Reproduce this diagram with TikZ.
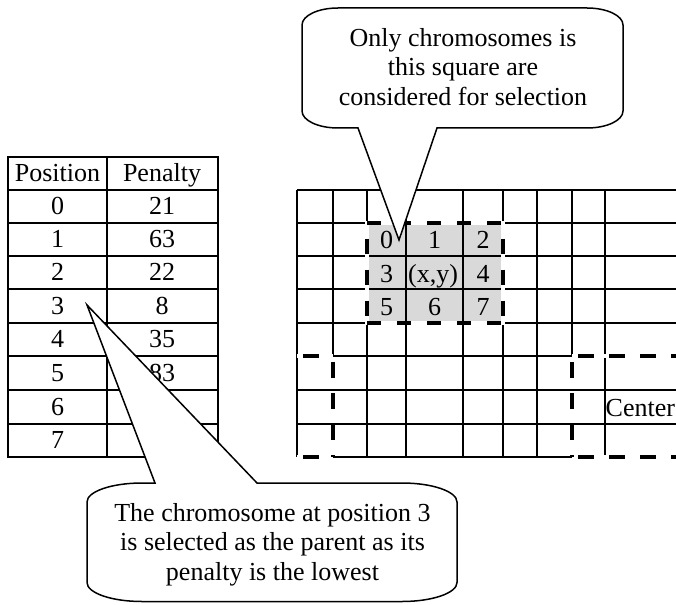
\documentclass[tikz,border=0pt]{standalone}
\usepackage{fontspec}
\setmainfont{Liberation Serif}
\definecolor{boxgray}{RGB}{217,217,217}
\begin{document}
\begin{tikzpicture}[x=1pt,y=-1pt,
  font=\fontsize{26}{29.2}\selectfont,
  gridline/.style={line width=2pt},
  under/.style={white,line width=4pt},
  sidedash/.style={line width=4pt,dash pattern=on 16pt off 15pt,dash phase=25pt},
  hdash/.style={line width=4pt,dash pattern=on 14pt off 16pt,dash phase=0pt},
  vdash/.style={line width=4pt,dash pattern=on 15pt off 16pt,dash phase=15pt},
  tcell/.style={inner sep=0pt,text height=16.6pt,text depth=0pt},
  gcell/.style={inner sep=0pt,text height=19pt,text depth=0pt},
  bubble/.style={draw,fill=white,line width=1.5pt,line join=miter},
  bubbletext/.style={align=center,inner sep=0pt}]
\useasboundingbox (0,0) rectangle (676,604);

% ---------- table ----------
\draw[gridline] (8,157.3) rectangle (217.5,456.7);
\draw[gridline] (107,157.3) -- (107,456.7);
\foreach \y in {189.5,222.5,256,289,322.5,356,390,423.5}
  \draw[gridline] (8,\y) -- (217.5,\y);
\node[tcell] (hpos) at (57.5,173.4) {Position};
\node[tcell] (hpen) at (162,173.4) {Penalty};
\node[tcell] (p0) at (57.5,206) {0};   \node[tcell] (v0) at (162,206) {21};
\node[tcell] (p1) at (57.5,239.25) {1}; \node[tcell] (v1) at (162,239.25) {63};
\node[tcell] (p2) at (57.5,272.5) {2}; \node[tcell] (v2) at (162,272.5) {22};
\node[tcell] (p3) at (57.5,305.75) {3}; \node[tcell] (v3) at (162,305.75) {8};
\node[tcell] (p4) at (57.5,339.25) {4}; \node[tcell] (v4) at (162,339.25) {35};
\node[tcell] (p5) at (57.5,373) {5};   \node[tcell] (v5) at (162,373) {83};
\node[tcell] (p6) at (57.5,406.75) {6};
\node[tcell] (p7) at (57.5,440.1) {7};

% ---------- grid ----------
\fill[boxgray] (367,222.5) rectangle (503,322.5);
\draw[gridline] (297,189.5) -- (676,189.5);
\draw[gridline] (297,222.5) -- (367,222.5) (503,222.5) -- (676,222.5);
\draw[gridline] (297,256) -- (676,256);
\draw[gridline] (297,289) -- (676,289);
\draw[gridline] (297,322.5) -- (367,322.5) (503,322.5) -- (676,322.5);
\draw[gridline] (333,356) -- (572,356);
\draw[gridline] (297,390) -- (676,390);
\draw[gridline] (297,423.5) -- (676,423.5);
\draw[gridline] (333,456.7) -- (572,456.7);
\draw[gridline] (297,189.5) -- (297,456.7);
\draw[gridline] (333,189.5) -- (333,356);
\draw[gridline] (367,189.5) -- (367,222.5) (367,322.5) -- (367,456.7);
\draw[gridline] (406,189.5) -- (406,456.7);
\draw[gridline] (463,189.5) -- (463,456.7);
\draw[gridline] (503,189.5) -- (503,222.5) (503,322.5) -- (503,456.7);
\draw[gridline] (537,189.5) -- (537,456.7);
\draw[gridline] (572,189.5) -- (572,356);
\draw[gridline] (605,189.5) -- (605,456.7);

% dashed neighbourhoods
\draw[under] (367,222.5) rectangle (503,322.5);
\draw[hdash] (367,222.5) -- (503,222.5);
\draw[hdash] (367,322.5) -- (503,322.5);
\draw[vdash] (367,222.5) -- (367,322.5);
\draw[vdash] (503,222.5) -- (503,322.5);

\draw[under] (297,356) -- (333,356) (297,456.7) -- (333,456.7);
\draw[under] (572,356) -- (676,356) (572,456.7) -- (676,456.7);
\draw[sidedash] (297,356) -- (333,356);
\draw[sidedash] (297,456.7) -- (333,456.7);
\draw[sidedash] (333,356) -- (333,456.7);
\draw[sidedash] (572,356) -- (676,356);
\draw[sidedash] (572,456.7) -- (676,456.7);
\draw[sidedash] (572,356) -- (572,456.7);

\node[gcell] (g0) at (386.5,239.25) {0};
\node[gcell] (g1) at (434.5,239.25) {1};
\node[gcell] (g2) at (483,239.25) {2};
\node[gcell] (g3) at (386.5,272.5) {3};
\node[gcell] (gxy) at (433,272.5) {(x,y)};
\node[gcell] (g4) at (483,272.5) {4};
\node[gcell] (g5) at (386.5,305.75) {5};
\node[gcell] (g6) at (434.5,305.75) {6};
\node[gcell] (g7) at (483,305.75) {7};
\node[gcell,anchor=west] (gc) at (605.5,406.75) {Center};

% ---------- callouts ----------
\draw[bubble] (338,8) -- (587,8)
  .. controls (606.9,8) and (623,15.6) .. (623,25) -- (623,111)
  .. controls (623,120.4) and (606.9,128) .. (587,128) -- (437,128)
  -- (399,240) -- (358,128) -- (338,128)
  .. controls (318.1,128) and (302,120.4) .. (302,111) -- (302,25)
  .. controls (302,15.6) and (318.1,8) .. (338,8) -- cycle;
\node[bubbletext] (topnote) at (463,70) {\strut Only chromosomes is\\this square are\\considered for selection\strut};

\draw[bubble] (155,483) -- (87,305) -- (257,483) -- (402,483)
  .. controls (432.4,483) and (457,491.5) .. (457,502) -- (457,582.5)
  .. controls (457,593) and (432.4,601.5) .. (402,601.5) -- (142,601.5)
  .. controls (111.6,601.5) and (87,593) .. (87,582.5) -- (87,502)
  .. controls (87,491.5) and (111.6,483) .. (142,483) -- cycle;
\node[bubbletext] (botnote) at (272.5,545) {\strut The chromosome at position 3\\is selected as the parent as its\\penalty is the lowest\strut};
\end{tikzpicture}
\end{document}
